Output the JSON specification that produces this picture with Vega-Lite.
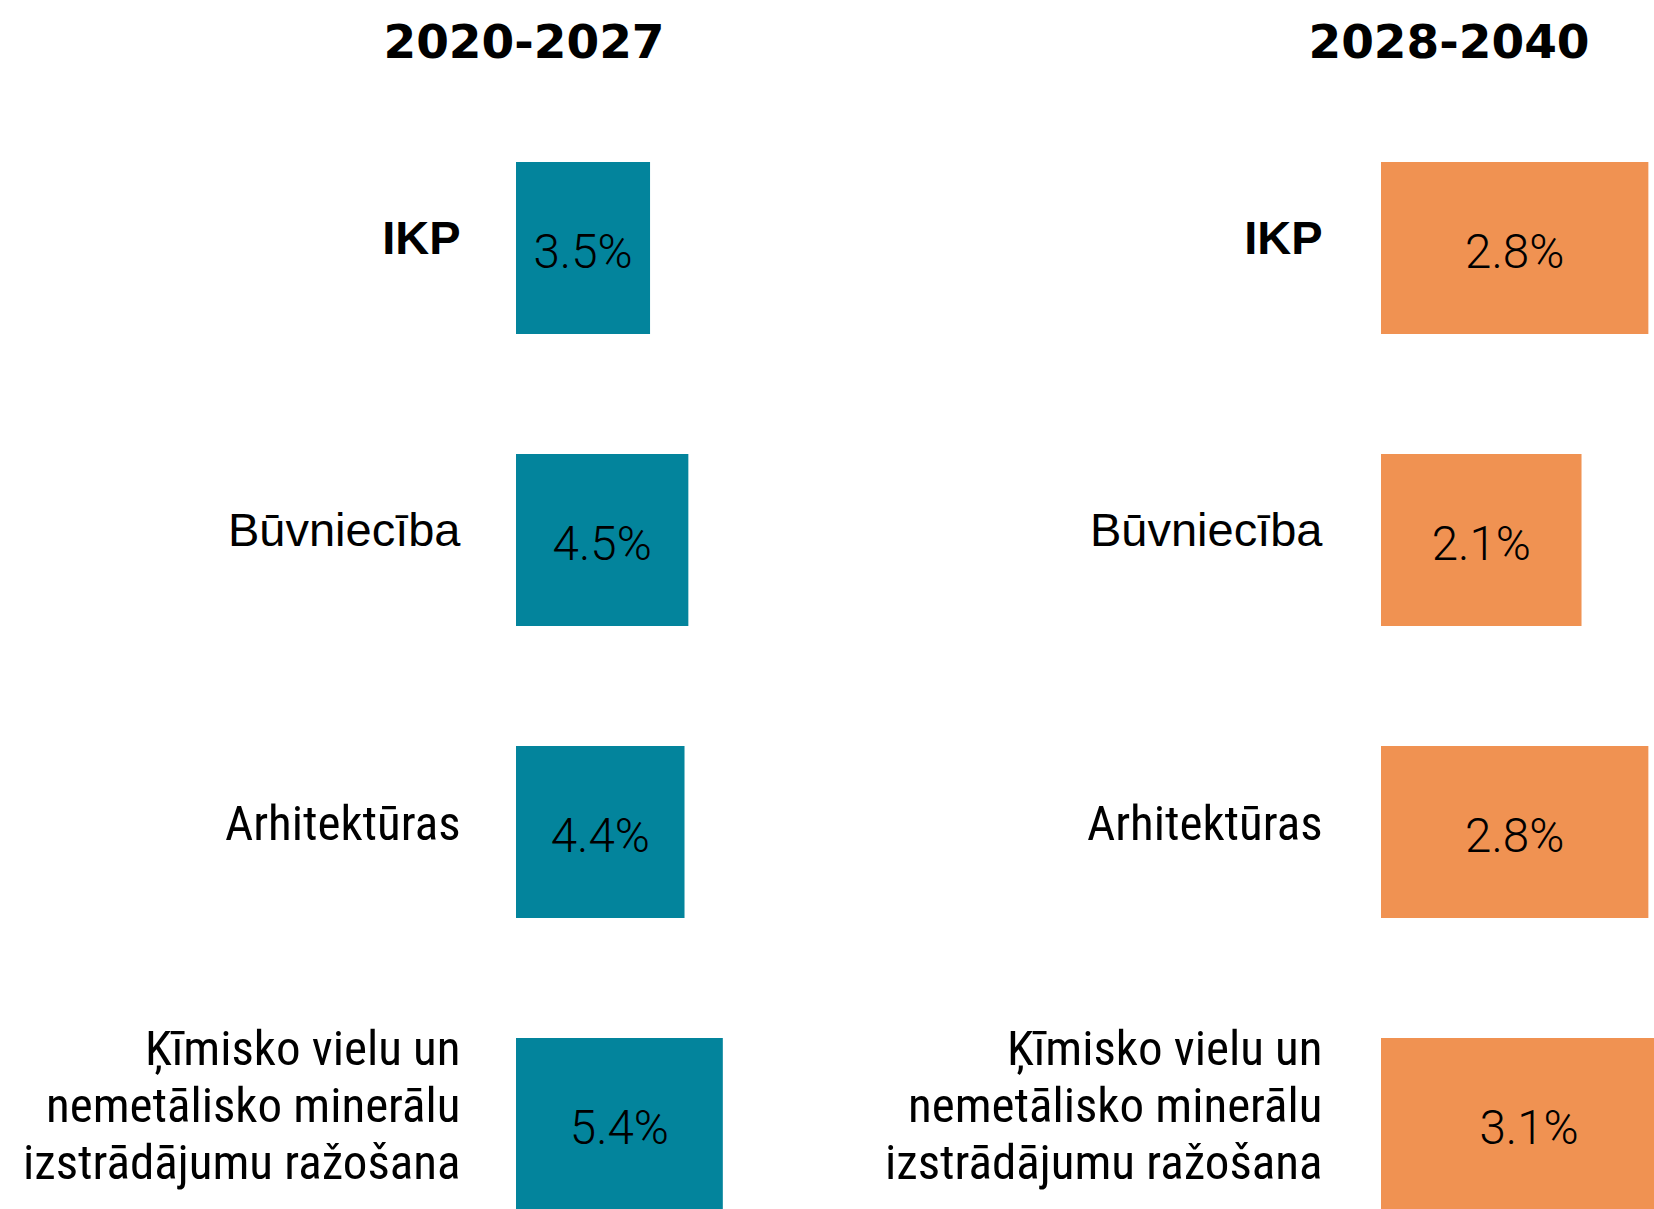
{
  "$schema": "https://vega.github.io/schema/vega-lite/v6.json",
  "background": "white",
  "padding": {"top": 20, "left": 0, "right": 0, "bottom": 0},
  "spacing": 0,
  "config": {"view": {"stroke": null}, "axis": {"grid": false}},
  "datasets": {
    "p1": [
      {"category": "IKP", "value": 0.035},
      {"category": "Būvniecība", "value": 0.045},
      {"category": "Arhitektūras", "value": 0.044},
      {"category": "Ķīmisko vielu un nemetālisko minerālu izstrādājumu ražošana", "value": 0.054}
    ],
    "p2": [
      {"category": "IKP", "value": 0.028},
      {"category": "Būvniecība", "value": 0.021},
      {"category": "Arhitektūras", "value": 0.028},
      {"category": "Ķīmisko vielu un nemetālisko minerālu izstrādājumu ražošana", "value": 0.031}
    ]
  },
  "hconcat": [
    {
      "width": 300,
      "height": 1048,
      "title": {"text": "2020-2027", "font": "DejaVu Sans", "fontSize": 47, "fontWeight": "bold", "color": "black", "anchor": "middle", "frame": "group", "dx": -142, "offset": 47, "baseline": "bottom"},
      "data": {"name": "p1"},
      "encoding": {
        "y": {
          "field": "category", "type": "nominal", "sort": null,
          "scale": {"paddingInner": 0.411, "paddingOuter": 0},
          "axis": {
            "title": null, "domain": false, "ticks": false, "labelPadding": 56,
            "minExtent": 516, "maxExtent": 516, "labelLimit": 0, "labelColor": "black",
            "labelLineHeight": 57,
            "labelOffset": {"condition": {"test": "length(datum.value) > 30", "value": -74}, "value": -7.5},
            "labelExpr": "length(datum.value) > 30 ? ['Ķīmisko vielu un', 'nemetālisko minerālu', 'izstrādājumu ražošana'] : datum.label",
            "labelFont": {"condition": {"test": "datum.value === 'IKP' || datum.value === 'Būvniecība'", "value": "Liberation Sans"}, "value": "Liberation Sans Narrow, Roboto Condensed, Lato"},
            "labelFontWeight": {"condition": {"test": "datum.value === 'IKP'", "value": "bold"}, "value": "normal"},
            "labelFontSize": {"condition": {"test": "datum.value === 'IKP' || datum.value === 'Būvniecība'", "value": 47}, "value": 49}
          }
        }
      },
      "layer": [
        {
          "mark": {"type": "bar", "color": "#03849c"},
          "encoding": {"x": {"field": "value", "type": "quantitative", "scale": {"domain": [0, 0.07833], "nice": false, "zero": true}, "axis": null}}
        },
        {
          "mark": {"type": "text", "font": "Roboto", "fontWeight": 300, "fontSize": 47.5, "color": "black", "baseline": "middle", "align": "center", "dy": 6},
          "encoding": {
            "x": {"field": "value", "type": "quantitative", "scale": {"domain": [0, 0.15666], "nice": false, "zero": true}, "axis": null},
            "text": {"field": "value", "type": "quantitative", "format": ".1%"}
          }
        }
      ],
      "resolve": {"scale": {"x": "independent"}}
    },
    {
      "width": 273,
      "height": 1048,
      "title": {"text": "2028-2040", "font": "DejaVu Sans", "fontSize": 47, "fontWeight": "bold", "color": "black", "anchor": "middle", "frame": "group", "dx": -68.5, "offset": 47, "baseline": "bottom"},
      "data": {"name": "p2"},
      "encoding": {
        "y": {
          "field": "category", "type": "nominal", "sort": null,
          "scale": {"paddingInner": 0.411, "paddingOuter": 0},
          "axis": {
            "title": null, "domain": false, "ticks": false, "labelPadding": 59,
            "minExtent": 565, "maxExtent": 565, "labelLimit": 0, "labelColor": "black",
            "labelLineHeight": 57,
            "labelOffset": {"condition": {"test": "length(datum.value) > 30", "value": -74}, "value": -7.5},
            "labelExpr": "length(datum.value) > 30 ? ['Ķīmisko vielu un', 'nemetālisko minerālu', 'izstrādājumu ražošana'] : datum.label",
            "labelFont": {"condition": {"test": "datum.value === 'IKP' || datum.value === 'Būvniecība'", "value": "Liberation Sans"}, "value": "Liberation Sans Narrow, Roboto Condensed, Lato"},
            "labelFontWeight": {"condition": {"test": "datum.value === 'IKP'", "value": "bold"}, "value": "normal"},
            "labelFontSize": {"condition": {"test": "datum.value === 'IKP' || datum.value === 'Būvniecība'", "value": 47}, "value": 49}
          }
        }
      },
      "layer": [
        {
          "mark": {"type": "bar", "color": "#f09252", "clip": true},
          "encoding": {"x": {"field": "value", "type": "quantitative", "scale": {"domain": [0, 0.02859], "nice": false, "zero": true}, "axis": null}}
        },
        {
          "mark": {"type": "text", "font": "Roboto", "fontWeight": 300, "fontSize": 47.5, "color": "black", "baseline": "middle", "align": "center", "dy": 6},
          "encoding": {
            "x": {"field": "value", "type": "quantitative", "scale": {"domain": [0, 0.05717], "nice": false, "zero": true}, "axis": null},
            "text": {"field": "value", "type": "quantitative", "format": ".1%"}
          }
        }
      ],
      "resolve": {"scale": {"x": "independent"}}
    }
  ]
}
